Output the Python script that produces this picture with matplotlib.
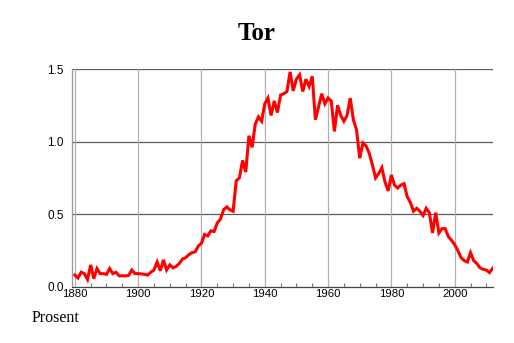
import matplotlib
matplotlib.use("Agg")
import matplotlib.pyplot as plt
from matplotlib.ticker import MultipleLocator

years = list(range(1880, 2013))
values = [
    0.08, 0.06, 0.10, 0.09, 0.05, 0.15, 0.055, 0.125, 0.09, 0.09,      # 1880-1889
    0.085, 0.125, 0.09, 0.10, 0.075, 0.075, 0.075, 0.078, 0.115, 0.09,  # 1890-1899
    0.09, 0.088, 0.085, 0.08, 0.10, 0.115, 0.17, 0.11, 0.185, 0.115,    # 1900-1909
    0.15, 0.13, 0.14, 0.16, 0.19, 0.20, 0.22, 0.235, 0.24, 0.28,        # 1910-1919
    0.30, 0.36, 0.35, 0.385, 0.38, 0.44, 0.465, 0.53, 0.55, 0.53,       # 1920-1929
    0.52, 0.73, 0.75, 0.87, 0.79, 1.04, 0.96, 1.12, 1.17, 1.14,         # 1930-1939
    1.26, 1.30, 1.18, 1.28, 1.20, 1.32, 1.33, 1.345, 1.48, 1.35,        # 1940-1949
    1.43, 1.46, 1.345, 1.43, 1.38, 1.45, 1.15, 1.24, 1.33, 1.26,        # 1950-1959
    1.30, 1.28, 1.07, 1.25, 1.18, 1.14, 1.18, 1.30, 1.15, 1.08,         # 1960-1969
    0.885, 0.99, 0.97, 0.92, 0.84, 0.75, 0.78, 0.82, 0.72, 0.66,        # 1970-1979
    0.77, 0.70, 0.68, 0.70, 0.71, 0.62, 0.58, 0.52, 0.54, 0.52,         # 1980-1989
    0.49, 0.54, 0.51, 0.37, 0.51, 0.37, 0.40, 0.40, 0.345, 0.32,        # 1990-1999
    0.29, 0.25, 0.20, 0.18, 0.17, 0.235, 0.18, 0.16, 0.13, 0.12,        # 2000-2009
    0.115, 0.097, 0.127,                                                # 2010-2012
]
title = "Tor"
ylabel_text = "Prosent"
xticks = [1880, 1900, 1920, 1940, 1960, 1980, 2000]
yticks = [0.0, 0.5, 1.0, 1.5]

fig = plt.figure(figsize=(5.14, 3.43), dpi=100)
ax = fig.add_axes([72.3 / 514, 1 - 286.7 / 343, (493.3 - 72.3) / 514, (286.7 - 69) / 343])

ax.plot(years, values, color="#ff0000", linewidth=2.2, solid_joinstyle="miter", zorder=3)

ax.set_xlim(1879.2, 2012.2)
ax.set_ylim(0, 1.5)
ax.set_xticks(xticks)
ax.set_xticklabels([str(t) for t in xticks])
ax.set_yticks(yticks)
ax.set_yticklabels([f"{t:.1f}" for t in yticks])
ax.xaxis.set_minor_locator(MultipleLocator(5))

for y in yticks[1:]:
    ax.axhline(y, color="#5a5a5a", linewidth=0.9, zorder=1)
for x in xticks:
    ax.axvline(x, color="#b0b0b0", linewidth=0.9, zorder=1)

for s in ["top", "right"]:
    ax.spines[s].set_visible(False)
ax.spines["left"].set_color("#999999")
ax.spines["left"].set_linewidth(0.9)
ax.spines["bottom"].set_color("#444444")
ax.spines["bottom"].set_linewidth(0.9)

ax.tick_params(axis="x", which="major", direction="in", length=0, pad=2,
               labelsize=8.2, labelfontfamily="Liberation Sans")
ax.tick_params(axis="x", which="minor", direction="in", length=3, color="#777777", width=0.8)
ax.tick_params(axis="y", which="major", length=0, pad=6,
               labelsize=8.5, labelfontfamily="Liberation Sans")

fig.text(257 / 514, 1 - 34 / 343, title, ha="center", va="center",
         fontsize=18, fontweight="bold", family="Liberation Serif")
fig.text(32 / 514, 1 - 318 / 343, ylabel_text, ha="left", va="center",
         fontsize=11.5, family="Liberation Serif")

fig.savefig("out.png", dpi=100)
